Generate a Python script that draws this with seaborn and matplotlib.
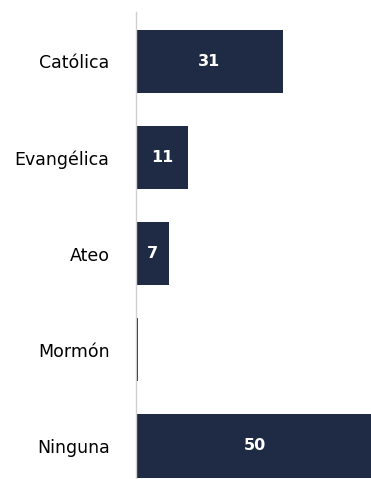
import seaborn as sns
import matplotlib.pyplot as plt
import pandas as pd

# Datos
religiones = ["Católica", "Evangélica", "Ateo", "Mormón", "Ninguna"]
porcentajes = [31, 11, 7, 0.5, 50]
etiquetas = ["31", "11", "7", "", "50"]

df = pd.DataFrame({"religion": religiones, "pct": porcentajes})

sns.set_style("white")
plt.rcParams['font.family'] = ['DejaVu Sans']

fig = plt.figure(figsize=(3.71, 4.79), dpi=100)
ax = fig.add_axes([0.3666, 0.0, 0.6334, 0.975])

sns.barplot(data=df, x="pct", y="religion", color="#1f2a44", saturation=1,
            width=0.66, linewidth=0, ax=ax)

for i, (v, lab) in enumerate(zip(porcentajes, etiquetas)):
    if lab:
        ax.text(v / 2, i, lab, ha="center", va="center", color="white",
                fontsize=11.5, fontweight="bold")

ax.set_xlim(0, 49.6)
ax.set_ylim(4.345, -0.515)
ax.set_xlabel("")
ax.set_ylabel("")
ax.set_xticks([])
for s in ["top", "right", "bottom"]:
    ax.spines[s].set_visible(False)
ax.spines["left"].set_color("#d0d0d0")
ax.spines["left"].set_linewidth(1)
ax.tick_params(axis="y", length=0, pad=19, labelsize=12.5, labelcolor="black")

plt.savefig("out.png", dpi=100)
plt.close()
